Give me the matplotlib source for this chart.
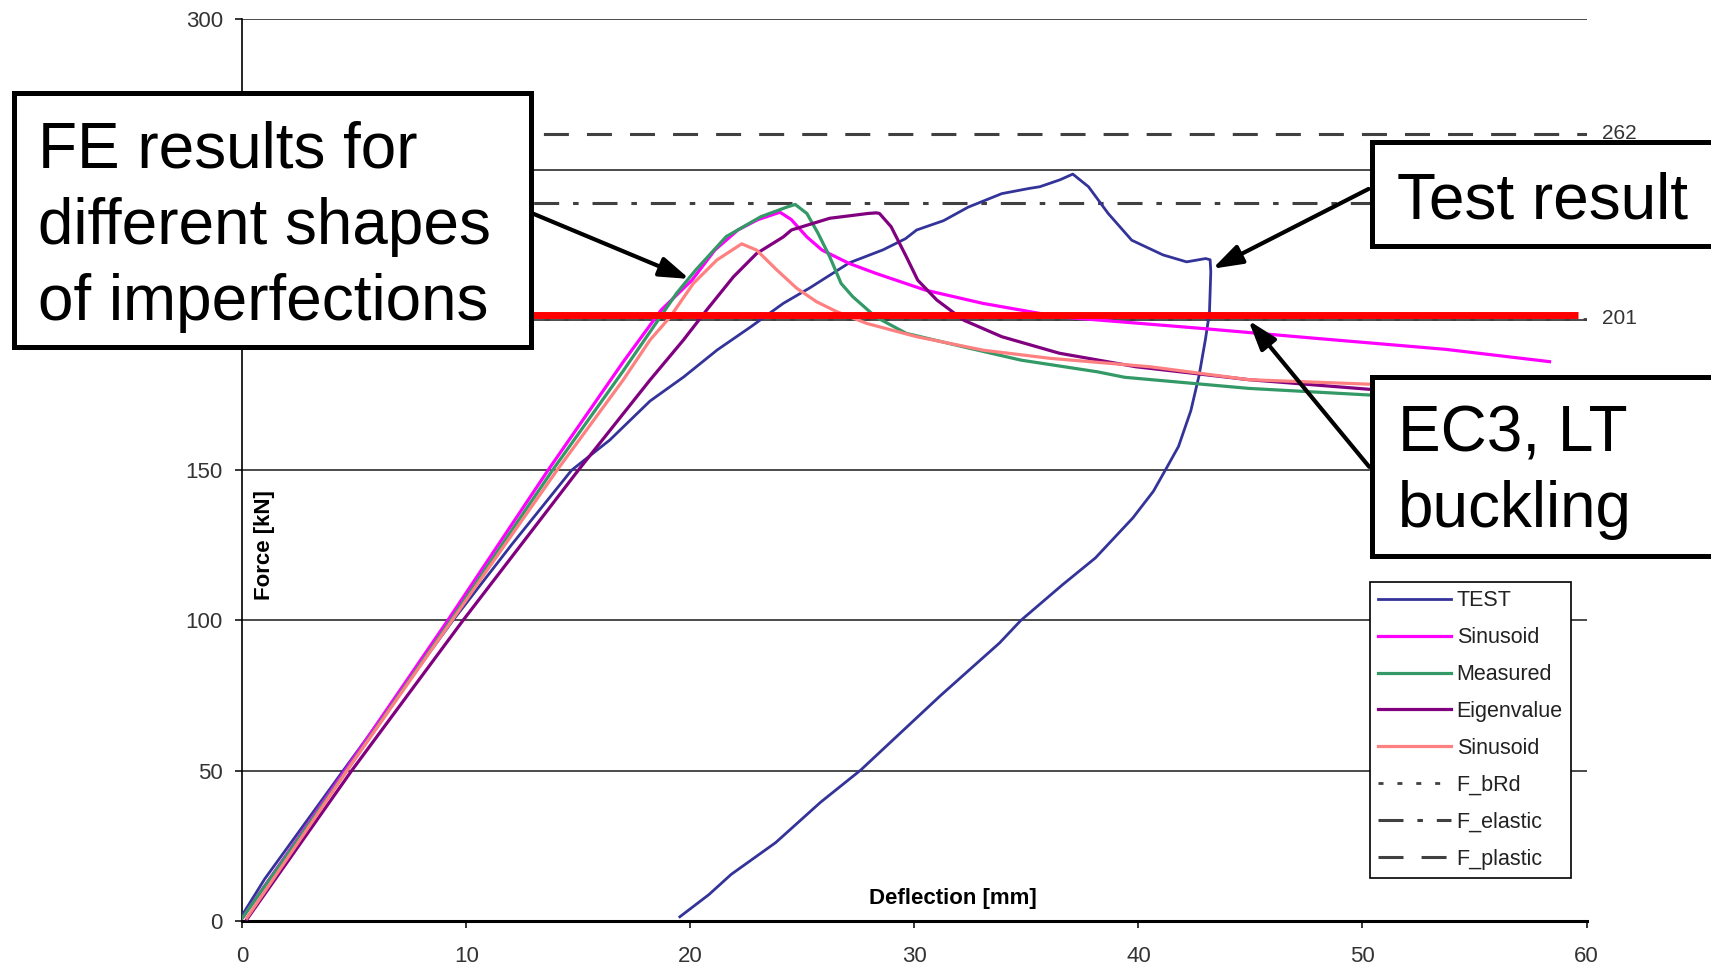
"""
Force-deflection curves: test vs FE models with different imperfection shapes.
"""

import matplotlib
matplotlib.use("Agg")
import matplotlib.pyplot as plt
from matplotlib.patches import Rectangle, FancyArrowPatch

plt.rcParams['font.family'] = ['Liberation Sans', 'DejaVu Sans']
plt.rcParams['lines.scale_dashes'] = False

# ── data (deflection [mm], force [kN]) ───────────────────────────────────────
test_x = [0, 1.0, 4.5, 9.4, 12.0, 14.7, 16.4, 18.2, 19.7, 21.2, 22.7, 24.15,
          25.3, 27.1, 28.6, 29.6, 30.1, 31.3, 32.4, 33.9, 35.1, 35.6, 36.5,
          37.07, 37.77, 38.65, 39.7, 41.1, 42.15, 43.0, 43.2, 43.23, 43.17,
          42.99, 42.71, 42.34, 41.79, 41.23, 40.67, 39.75, 38.08, 36.6, 34.75,
          33.8, 31.15, 27.6, 25.81, 23.81, 21.82, 20.83, 19.53]
test_y = [2, 14, 50, 100, 125, 150, 160, 173, 181, 190, 197.7, 205.5,
          210.5, 219, 223.3, 227, 229.9, 233, 237.5, 242, 243.7, 244.3, 246.6,
          248.5, 244.3, 235.4, 226.5, 221.6, 219.3, 220.4, 220, 216, 202.4,
          193.5, 181.6, 169.8, 157.9, 150.4, 143, 134.1, 120.8, 111.8, 100,
          92.5, 74.9, 50.2, 39.5, 26.1, 15.5, 8.8, 1.4]

sinus_x = [0, 4.58, 9.17, 13.65, 17.0, 18.7, 20.07, 21.09, 22.12, 23.0, 23.83,
           24.0, 24.5, 25.2, 25.88, 27.08, 28.27, 30.49, 33.05, 36.47, 42.75,
           48.0, 53.7, 58.35]
sinus_y = [1, 50, 100, 150, 186, 203.3, 213.2, 223.2, 229.9, 233.3, 235.4,
           235.8, 233.4, 227.6, 223.2, 218.8, 215.5, 209.9, 205.5, 201, 197.2,
           193.8, 190.2, 186.1]

meas_x = [0, 4.65, 9.3, 13.85, 17.0, 19.38, 20.24, 21.6, 23.14, 24.3, 24.68,
          25.2, 25.7, 26.22, 26.73, 27.25, 28.27, 29.64, 32.2, 34.76, 38.18,
          39.38, 44.93, 50.3, 53.0]
meas_y = [1, 50, 100, 150, 183, 208.8, 216.6, 227.7, 234.3, 237.5, 238.4,
          235.4, 228.8, 221, 212.1, 207.7, 201, 195.5, 191, 186.6, 182.7,
          180.9, 177.2, 175, 174]

eig_x = [0.2, 4.88, 9.85, 15.0, 18.2, 19.69, 20.73, 21.92, 22.96, 24.15, 24.51,
         26.22, 27.93, 28.3, 28.44, 28.96, 29.64, 30.15, 31.0, 32.2, 33.9,
         36.47, 39.89, 44.93, 50.3, 53.0]
eig_y = [0.5, 50, 100, 150, 180, 193.3, 203.3, 214.3, 222.1, 227.6, 229.9,
         233.8, 235.4, 235.6, 235.4, 231, 221, 213.2, 206.6, 199.9, 194.4,
         188.9, 184.4, 180.1, 176.9, 175.8]

sinus2_x = [0.2, 4.67, 9.36, 14.05, 17.0, 18.2, 19.1, 20.13, 21.18, 22.29,
            22.96, 23.86, 24.75, 25.64, 26.54, 27.88, 30.1, 33.08, 36.06,
            40.52, 44.93, 50.3, 53.0]
sinus2_y = [1, 50, 100, 150, 180, 193.3, 201, 212.1, 219.9, 225.3, 223.2,
            216.6, 210.5, 206, 202.7, 198.8, 194.4, 189.9, 187.2, 184.4,
            180.1, 178.6, 177.6]

F_bRd = 200.4
F_elastic = 239
F_plastic = 262
ec3_force = 201.6
ec3_span = [0, 59.6]

x_ticks = [0, 10, 20, 30, 40, 50, 60]
y_ticks = [0, 50, 100, 150, 200, 250, 300]
# 200 and 250 sit under the callout box in the original, so no label there
y_tick_labels = ['0', '50', '100', '150', '', '', '300']

# ── figure ───────────────────────────────────────────────────────────────────
W, H = 1711, 967
fig = plt.figure(figsize=(W / 100, H / 100), dpi=100)
ax = fig.add_axes([242.3 / W, 1 - 921 / H, (1586.5 - 242.3) / W, (921 - 19.3) / H])
ax.set_xlim(0, 60)
ax.set_ylim(0, 300)


def fx(px):
    return px / W


def fy(py):
    return 1 - py / H


ref_col = '#404040'
ax.axhline(F_bRd, color=ref_col, lw=2.0, dashes=(3.6, 10), zorder=2, label='F_bRd')
ax.axhline(F_elastic, color=ref_col, lw=2.2, dashes=(18, 10, 4, 10), zorder=2,
           label='F_elastic')
ax.axhline(F_plastic, color=ref_col, lw=2.2, dashes=(18, 13), zorder=2,
           label='F_plastic')

ax.plot(test_x, test_y, color='#333399', lw=2.0, zorder=3, label='TEST')
ax.plot(sinus_x, sinus_y, color='#ff00ff', lw=2.3, zorder=3, label='Sinusoid')
ax.plot(meas_x, meas_y, color='#339966', lw=2.3, zorder=3, label='Measured')
ax.plot(eig_x, eig_y, color='#800080', lw=2.3, zorder=3, label='Eigenvalue')
ax.plot(sinus2_x, sinus2_y, color='#ff8080', lw=2.3, zorder=3, label='Sinusoid')

# EC3 LT buckling resistance
ax.plot(ec3_span, [ec3_force, ec3_force], color='#ff0000', lw=5, zorder=4,
        solid_capstyle='butt')

ax.text(60.7, F_plastic, '262', fontsize=15, color='#333333', va='center',
        ha='left', clip_on=False, zorder=1)
ax.text(60.7, F_bRd, '201', fontsize=15, color='#333333', va='center',
        ha='left', clip_on=False, zorder=1)

# axes styling
ax.set_xticks(x_ticks)
ax.set_yticks(y_ticks)
ax.set_yticklabels(y_tick_labels)
ax.grid(axis='y', color='#1a1a1a', lw=1.1, zorder=1)
ax.set_axisbelow(True)
for side in ['top', 'right']:
    ax.spines[side].set_visible(False)
ax.spines['left'].set_linewidth(1.2)
ax.spines['bottom'].set_linewidth(2.2)
ax.tick_params(axis='y', length=5, width=1.1, pad=9, labelsize=16,
               labelcolor='#333333')
ax.tick_params(axis='x', length=5, width=1.1, pad=13, labelsize=16,
               labelcolor='#333333')

ax.text(31.7, 7.6, 'Deflection [mm]', fontsize=16, fontweight='bold',
        ha='center', va='center', zorder=5)
ax.text(1.0, 125, 'Force [kN]', fontsize=16, fontweight='bold', rotation=90,
        ha='center', va='center', zorder=5)

# legend in the order of the original chart
handles, labels = ax.get_legend_handles_labels()
order = [3, 4, 5, 6, 7, 0, 1, 2]
leg = ax.legend([handles[i] for i in order], [labels[i] for i in order],
                loc='upper left', bbox_to_anchor=(fx(1369.5), fy(581.6)),
                bbox_transform=fig.transFigure, borderaxespad=0, fancybox=False,
                edgecolor='black', framealpha=1, fontsize=15.5, handlelength=3.4,
                handletextpad=0.25, labelspacing=0.74, borderpad=0.4)
leg.get_frame().set_linewidth(1.2)
for t in leg.get_texts():
    t.set_color('#222222')
leg.set_zorder(6)

# ── callout boxes and arrows ────────────────────────────────────────────────
def callout(x0, y0, x1, y1, lines, text_x, baselines):
    rect = Rectangle((fx(x0), fy(y1)), fx(x1) - fx(x0), fy(y0) - fy(y1),
                     transform=fig.transFigure, facecolor='white',
                     edgecolor='black', lw=3.6, zorder=10)
    fig.add_artist(rect)
    for line, base in zip(lines, baselines):
        fig.text(fx(text_x), fy(base), line, fontsize=46, color='black',
                 ha='left', va='baseline', zorder=11)


def arrow(tail, head):
    arr = FancyArrowPatch((fx(tail[0]), fy(tail[1])), (fx(head[0]), fy(head[1])),
                          transform=fig.transFigure,
                          arrowstyle='-|>,head_length=18,head_width=6',
                          mutation_scale=1, color='black', lw=3, zorder=9)
    fig.add_artist(arr)


callout(14, 93.5, 530.5, 346.5,
        ['FE results for', 'different shapes', 'of imperfections'],
        38, [167.3, 244, 320])
callout(1371.8, 142, 1725, 245.5, ['Test result'], 1396.7, [218.3])
callout(1371.8, 377, 1725, 556, ['EC3, LT', 'buckling'], 1398, [451, 527])

arrow((531, 212.8), (692, 280))
arrow((1371, 187.7), (1210, 270))
arrow((1371, 469), (1246.7, 318.3))

fig.savefig('out.png', dpi=100)
